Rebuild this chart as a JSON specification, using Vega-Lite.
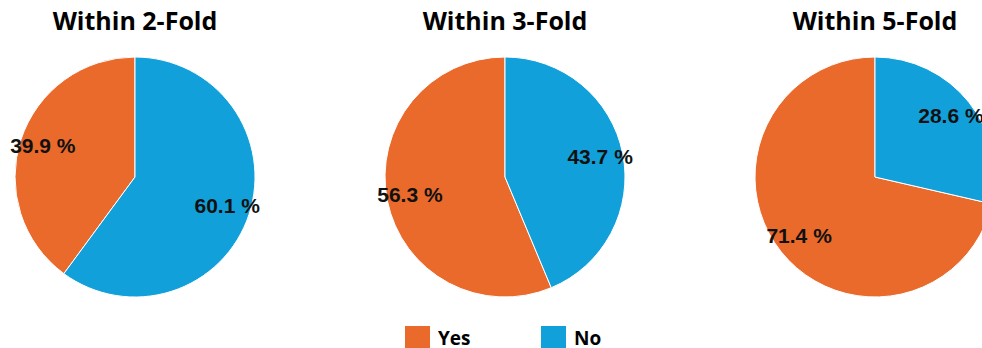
{
  "$schema": "https://vega.github.io/schema/vega-lite/v6.json",
  "padding": {"left": 10, "top": 10, "right": 0, "bottom": 0},
  "bounds": "flush",
  "background": "white",
  "data": {"values": [
    {"fold": "Within 2-Fold", "answer": "Yes", "value": 39.9},
    {"fold": "Within 2-Fold", "answer": "No", "value": 60.1},
    {"fold": "Within 3-Fold", "answer": "Yes", "value": 56.3},
    {"fold": "Within 3-Fold", "answer": "No", "value": 43.7},
    {"fold": "Within 5-Fold", "answer": "Yes", "value": 71.4},
    {"fold": "Within 5-Fold", "answer": "No", "value": 28.6}
  ]},
  "facet": {
    "column": {
      "field": "fold", "type": "nominal",
      "sort": ["Within 2-Fold", "Within 3-Fold", "Within 5-Fold"],
      "title": null,
      "header": {"labelFontSize": 25, "labelFontWeight": "bold", "labelFont": "Open Sans", "labelColor": "black", "labelPadding": 22}
    }
  },
  "spacing": 130,
  "spec": {
    "width": 240,
    "height": 240,
    "layer": [
      {
        "mark": {"type": "arc", "stroke": "white", "strokeWidth": 1},
        "encoding": {
          "theta": {"field": "value", "type": "quantitative", "stack": true},
          "order": {"field": "answer", "sort": "ascending"},
          "color": {
            "field": "answer", "type": "nominal",
            "scale": {"domain": ["Yes", "No"], "range": ["#EA6A2B", "#12A0DA"]},
            "legend": {
              "title": null, "orient": "bottom", "direction": "horizontal",
              "symbolType": "square", "symbolSize": 625, "symbolStrokeWidth": 0, "symbolOpacity": 1,
              "labelFont": "Open Sans", "labelFontSize": 19, "labelFontWeight": "bold", "labelColor": "black",
              "columnPadding": 70, "labelOffset": 8, "offset": 27
            }
          }
        }
      },
      {
        "mark": {"type": "text", "radius": 97, "fontSize": 21, "fontWeight": "bold", "font": "Liberation Sans", "fill": "#111", "text": {"expr": "format(datum.value, '.1f') + ' %'"}},
        "encoding": {
          "theta": {"field": "value", "type": "quantitative", "stack": true},
          "order": {"field": "answer", "sort": "ascending"}
        }
      }
    ]
  },
  "config": {"view": {"stroke": null}, "legend": {"layout": {"bottom": {"anchor": "middle"}}}}
}
